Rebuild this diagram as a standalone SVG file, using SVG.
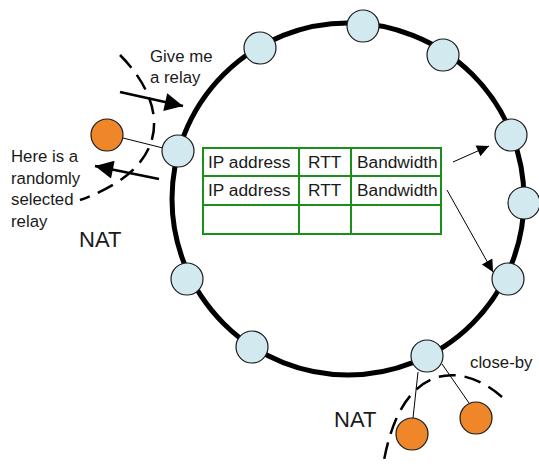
<svg xmlns="http://www.w3.org/2000/svg" width="539" height="466" viewBox="0 0 539 466">
  <style>
    text { font-family: "Liberation Sans", Arial, sans-serif; fill: #1a1a1a; }
    .lbl { font-size: 16.8px; }
    .cell { font-size: 17.3px; }
    .nat { font-size: 22px; }
    .peer { fill: #d2e9ef; stroke: #1a1a1a; stroke-width: 1.2; }
    .host { fill: #ef8629; stroke: #1a1a1a; stroke-width: 1.2; }
    .ring { fill: none; stroke: #000; stroke-width: 5; }
    .nat-edge { fill: none; stroke: #000; stroke-width: 2.5; stroke-dasharray: 17 9; }
    .link { stroke: #000; stroke-width: 1; fill: none; }
    .req { stroke: #000; stroke-width: 2.6; fill: none; }
    .grid { fill: #fff; stroke: #1a8f1a; stroke-width: 2; }
  </style>
  <defs>
    <marker id="bigHead" viewBox="0 0 10 10" refX="10" refY="5" markerWidth="9" markerHeight="7" markerUnits="strokeWidth" orient="auto">
      <path d="M0,0 L10,5 L0,10 z" fill="#000"/>
    </marker>
    <marker id="smallHead" viewBox="0 0 10 10" refX="10" refY="5" markerWidth="16" markerHeight="12" markerUnits="strokeWidth" orient="auto">
      <path d="M0,0 L10,5 L0,10 z" fill="#000"/>
    </marker>
  </defs>

  <!-- overlay ring -->
  <circle class="ring" cx="348" cy="199" r="176"/>

  <!-- NAT boundaries -->
  <path class="nat-edge" d="M120 55 C165 100 178 165 80 200"/>
  <path class="nat-edge" d="M502 397 C460 360 400 362 383 466"/>

  <g id="connectors">
    <line class="link" x1="123" y1="138" x2="163" y2="148"/>
    <line class="link" x1="418" y1="372" x2="413" y2="418"/>
    <line class="link" x1="442" y1="364" x2="469" y2="403"/>
    <line class="req" x1="120" y1="92" x2="183" y2="106" marker-end="url(#bigHead)"/>
    <line class="req" x1="159" y1="179" x2="95" y2="166" marker-end="url(#bigHead)"/>
    <line class="link" x1="453" y1="162" x2="489" y2="146" marker-end="url(#smallHead)"/>
    <line class="link" x1="447" y1="190" x2="493" y2="272" marker-end="url(#smallHead)"/>
  </g>

  <!-- ring members -->
  <g id="peer-w"><circle class="peer" cx="178" cy="151" r="16"/></g>
  <g id="peer-nw"><circle class="peer" cx="260" cy="48" r="16"/></g>
  <g id="peer-n"><circle class="peer" cx="363" cy="26" r="16"/></g>
  <g id="peer-ne"><circle class="peer" cx="443" cy="55" r="16"/></g>
  <g id="peer-e1"><circle class="peer" cx="511" cy="135" r="16"/></g>
  <g id="peer-e2"><circle class="peer" cx="524" cy="203" r="16"/></g>
  <g id="peer-se"><circle class="peer" cx="508" cy="279" r="16"/></g>
  <g id="peer-s"><circle class="peer" cx="427" cy="356" r="16"/></g>
  <g id="peer-sw"><circle class="peer" cx="252" cy="347" r="16"/></g>
  <g id="peer-wsw"><circle class="peer" cx="187" cy="279" r="16"/></g>

  <!-- hosts behind NAT -->
  <g id="host-left"><circle class="host" cx="107" cy="135" r="16"/></g>
  <g id="host-b1"><circle class="host" cx="412" cy="434" r="16"/></g>
  <g id="host-b2"><circle class="host" cx="476" cy="418" r="16"/></g>

  <!-- relay table -->
  <g id="relay-table">
    <rect class="grid" x="203" y="148" width="238" height="86"/>
    <line class="grid" x1="203" y1="176" x2="441" y2="176"/>
    <line class="grid" x1="203" y1="205" x2="441" y2="205"/>
    <line class="grid" x1="299" y1="148" x2="299" y2="234"/>
    <line class="grid" x1="351" y1="148" x2="351" y2="234"/>
    <text class="cell" x="208" y="168">IP address</text>
    <text class="cell" x="308" y="168">RTT</text>
    <text class="cell" x="357" y="168">Bandwidth</text>
    <text class="cell" x="208" y="196">IP address</text>
    <text class="cell" x="308" y="196">RTT</text>
    <text class="cell" x="357" y="196">Bandwidth</text>
  </g>

  <!-- labels -->
  <g id="labels">
    <text class="lbl" x="150" y="62">Give me</text>
    <text class="lbl" x="150" y="83">a relay</text>
    <text class="lbl" x="11" y="162">Here is a</text>
    <text class="lbl" x="11" y="184">randomly</text>
    <text class="lbl" x="11" y="205">selected</text>
    <text class="lbl" x="11" y="227">relay</text>
    <text class="nat" x="79" y="247">NAT</text>
    <text class="nat" x="334" y="427">NAT</text>
    <text class="lbl" x="470" y="368">close-by</text>
  </g>
</svg>
